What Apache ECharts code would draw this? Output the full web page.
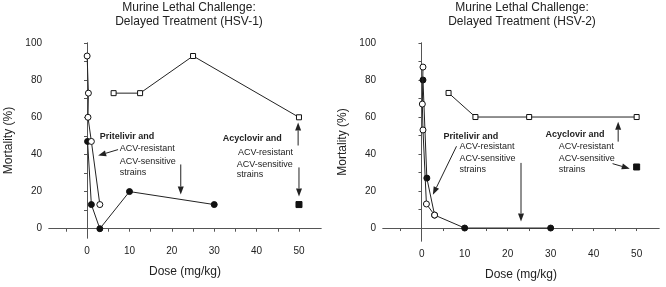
<!DOCTYPE html>
<html>
<head>
<meta charset="utf-8">
<script src="https://cdn.jsdelivr.net/npm/echarts@6/dist/echarts.min.js"></script>
<style>
  html, body { margin: 0; padding: 0; background: #fff; }
  #main { width: 666px; height: 287px; }
</style>
</head>
<body>
<div id="main"></div>
<script>
// axis ticks / labels
const doseTicks = [-5, 0, 5, 10, 15, 20, 25, 30, 35, 40, 45, 50]
const doseLabels = [0, 10, 20, 30, 40, 50]
const mortalityTicks = [0, 10, 20, 30, 40, 50, 60, 70, 80, 90, 100]
const mortalityLabels = [0, 20, 40, 60, 80, 100]

// HSV-1 panel: [dose mg/kg, mortality %]
const hsv1PritelivirResistant = [[0, 93], [0.3, 73], [0.2, 60], [1, 47], [3, 13]]
const hsv1PritelivirSensitive = [[0.1, 47], [1, 13], [3, 0], [10, 20], [30, 13]]
const hsv1AcyclovirResistant = [[6.25, 73], [12.5, 73], [25, 93], [50, 60]]
const hsv1AcyclovirSensitive = [[50, 13]]

// HSV-2 panel
const hsv2PritelivirResistant = [[0.3, 87], [0.15, 67], [0.3, 53], [1.1, 13], [3, 7]]
const hsv2PritelivirSensitive = [[0.3, 80], [1.2, 27], [3, 7], [10, 0], [30, 0]]
const hsv2AcyclovirResistant = [[6.25, 73], [12.5, 60], [25, 60], [50, 60]]
const hsv2AcyclovirSensitive = [[50, 33]]

const FONT = 'Liberation Sans, Arial, sans-serif'
const AXIS = '#555'
const INK = '#222'

// annotation texts and arrows, positioned in data units of each panel
const notes = [
  { grid: 0, text: 'Pritelivir and', at: [3.0, 49.6], bold: true },
  { grid: 0, text: 'ACV-resistant', at: [7.7, 43] },
  { grid: 0, text: 'ACV-sensitive\nstrains', at: [7.7, 33.2] },
  { grid: 0, text: 'Acyclovir and', at: [32.0, 48.8], bold: true },
  { grid: 0, text: 'ACV-resistant', at: [35.6, 41.2] },
  { grid: 0, text: 'ACV-sensitive\nstrains', at: [35.3, 32] },
  { grid: 1, text: 'Pritelivir and', at: [5.1, 49.6], bold: true },
  { grid: 1, text: 'ACV-resistant', at: [8.8, 44.2] },
  { grid: 1, text: 'ACV-sensitive\nstrains', at: [8.8, 34.5] },
  { grid: 1, text: 'Acyclovir and', at: [28.8, 50.5], bold: true },
  { grid: 1, text: 'ACV-resistant', at: [31.9, 44.2] },
  { grid: 1, text: 'ACV-sensitive\nstrains', at: [31.9, 34.5] }
]
const arrows = [
  { grid: 0, from: [7.3, 42.6], to: [2.6, 39.4] },
  { grid: 0, from: [22.1, 34.6], to: [22.1, 18.4] },
  { grid: 0, from: [49.8, 44.8], to: [49.8, 57.2] },
  { grid: 0, from: [50, 33], to: [50, 17.4] },
  { grid: 1, from: [8.1, 44.2], to: [2.6, 18] },
  { grid: 1, from: [23.1, 35.2], to: [23.1, 3.6] },
  { grid: 1, from: [45.7, 46.7], to: [45.7, 57.5] },
  { grid: 1, from: [44.4, 34.8], to: [48.4, 32.1] }
]

function xAxes (g) {
  return [
    {
      gridIndex: g, type: 'value', min: -9, max: 55.2, position: 'bottom',
      name: 'Dose (mg/kg)', nameLocation: 'middle', nameGap: 28,
      nameTextStyle: { fontSize: 12, fontFamily: FONT, color: INK },
      splitLine: { show: false },
      axisLine: { lineStyle: { color: AXIS } },
      axisTick: { customValues: doseTicks, length: 3, lineStyle: { color: AXIS } },
      axisLabel: { customValues: doseLabels, fontSize: 10, fontFamily: FONT, color: INK, margin: 8 }
    },
    {
      gridIndex: g, type: 'value', min: -9, max: 55.2, position: 'top',
      splitLine: { show: false },
      axisLine: { lineStyle: { color: AXIS } },
      axisTick: { show: false },
      axisLabel: { show: false }
    }
  ]
}

function yAxes (g, min) {
  return [
    {
      gridIndex: g, type: 'value', min: min, max: 100, position: 'left',
      name: 'Mortality (%)', nameLocation: 'middle', nameGap: 34,
      nameTextStyle: { fontSize: 12, fontFamily: FONT, color: INK },
      splitLine: { show: false },
      axisLine: { show: true, lineStyle: { color: AXIS } },
      axisTick: { show: true, customValues: mortalityTicks, length: 3, lineStyle: { color: AXIS } },
      axisLabel: { customValues: mortalityLabels, fontSize: 10, fontFamily: FONT, color: INK, margin: 7 }
    },
    {
      gridIndex: g, type: 'value', min: min, max: 100, position: 'right',
      splitLine: { show: false },
      axisLine: { show: true, lineStyle: { color: AXIS } },
      axisTick: { show: true, inside: true, customValues: mortalityTicks, length: 3, lineStyle: { color: AXIS } },
      axisLabel: { show: false }
    }
  ]
}

function line (data, g, symbol, filled, size) {
  return {
    type: 'line',
    data: data,
    xAxisIndex: g * 2,
    yAxisIndex: g * 2,
    symbol: symbol,
    symbolSize: size,
    showSymbol: true,
    silent: true,
    z: filled ? 2 : 3,
    lineStyle: { color: INK, width: 1 },
    itemStyle: { color: filled ? '#111' : '#fff', borderColor: '#111', borderWidth: 1 }
  }
}

function titleAt (x, label) {
  return {
    text: 'Murine Lethal Challenge:\nDelayed Treatment (' + label + ')',
    left: x, top: 1, padding: 0, textAlign: 'center',
    textStyle: { fontSize: 12, fontWeight: 'normal', fontFamily: FONT, color: INK, lineHeight: 14 }
  }
}

const myChart = echarts.init(document.getElementById('main'))
const option = {
  animation: false,
  title: [titleAt(189, 'HSV-1'), titleAt(522, 'HSV-2')],
  grid: [
    { left: 49, right: 345, top: 43, bottom: 49, outerBoundsMode: 'none' },
    { left: 383, right: 7, top: 43, bottom: 46, outerBoundsMode: 'none' }
  ],
  xAxis: [...xAxes(0), ...xAxes(1)],
  yAxis: [...yAxes(0, -5), ...yAxes(1, -7)],
  series: [
    line(hsv1PritelivirSensitive, 0, 'circle', true, 6),
    line(hsv1PritelivirResistant, 0, 'circle', false, 6),
    line(hsv1AcyclovirResistant, 0, 'rect', false, 5),
    line(hsv1AcyclovirSensitive, 0, 'rect', true, 6),
    line(hsv2PritelivirSensitive, 1, 'circle', true, 6),
    line(hsv2PritelivirResistant, 1, 'circle', false, 6),
    line(hsv2AcyclovirResistant, 1, 'rect', false, 5),
    line(hsv2AcyclovirSensitive, 1, 'rect', true, 6)
  ]
}
myChart.setOption(option)

// annotations drawn after layout so they follow the axes
const graphics = []
notes.forEach(n => {
  const p = myChart.convertToPixel({ gridIndex: n.grid }, n.at)
  graphics.push({
    type: 'text', x: p[0], y: p[1], silent: true,
    style: {
      text: n.text, fill: INK, fontSize: 9, fontFamily: FONT,
      fontWeight: n.bold ? 'bold' : 'normal',
      align: 'left', verticalAlign: 'middle', lineHeight: 10.5
    }
  })
})
arrows.forEach(a => {
  const p1 = myChart.convertToPixel({ gridIndex: a.grid }, a.from)
  const p2 = myChart.convertToPixel({ gridIndex: a.grid }, a.to)
  const dx = p2[0] - p1[0]
  const dy = p2[1] - p1[1]
  const len = Math.sqrt(dx * dx + dy * dy)
  const ux = dx / len
  const uy = dy / len
  const head = 8
  const half = 3
  const bx = p2[0] - ux * head
  const by = p2[1] - uy * head
  graphics.push({
    type: 'line', silent: true,
    shape: { x1: p1[0], y1: p1[1], x2: bx, y2: by },
    style: { stroke: INK, lineWidth: 1 }
  })
  graphics.push({
    type: 'polygon', silent: true,
    shape: { points: [[p2[0], p2[1]], [bx - uy * half, by + ux * half], [bx + uy * half, by - ux * half]] },
    style: { fill: INK }
  })
})
myChart.setOption({ graphic: graphics })
</script>
</body>
</html>
